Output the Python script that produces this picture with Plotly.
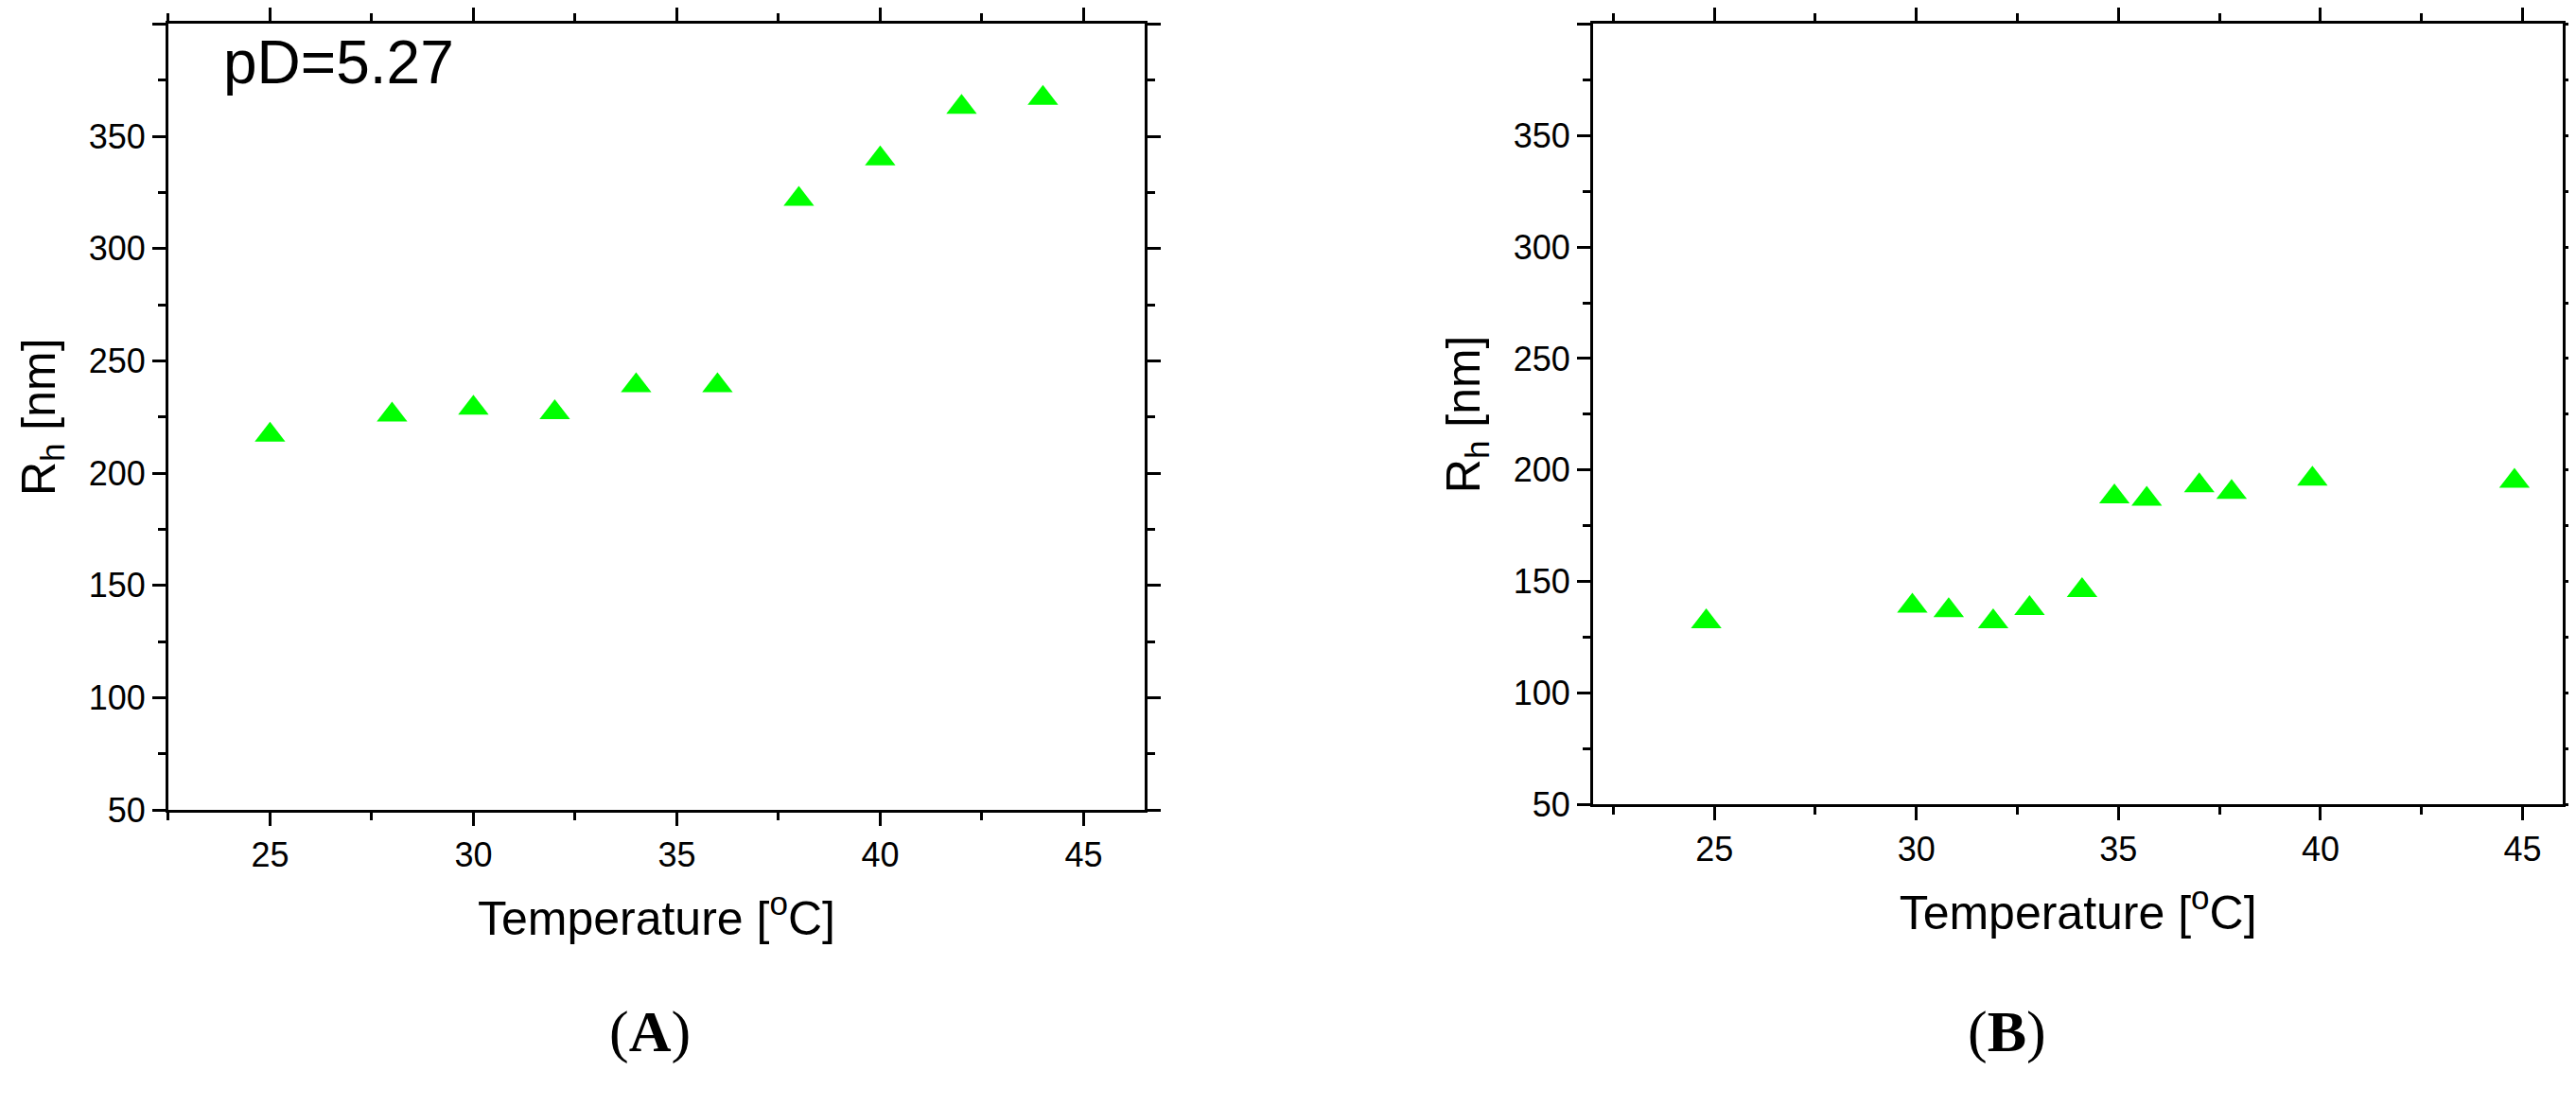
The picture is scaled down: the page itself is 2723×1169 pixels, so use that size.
import plotly.graph_objects as go

temp_a = [25, 28, 30, 32, 34, 36, 38, 40, 42, 44]
rh_a = [217, 226, 229, 227, 239, 239, 322, 340, 363, 367]
temp_b = [24.8, 29.9, 30.8, 31.9, 32.8, 34.1, 34.9, 35.7, 37.0, 37.8, 39.8, 44.8]
rh_b = [132, 139, 137, 132, 138, 146, 188, 187, 193, 190, 196, 195]

fig = go.Figure()
mk = dict(symbol="triangle-up", size=28, color="#00FF00")
fig.add_trace(go.Scatter(x=temp_a, y=rh_a, mode="markers", marker=mk, xaxis="x", yaxis="y", showlegend=False))
fig.add_trace(go.Scatter(x=temp_b, y=rh_b, mode="markers", marker=mk, xaxis="x2", yaxis="y2", showlegend=False))

tf = dict(family="Liberation Sans, Arial", size=36, color="black")
ttf = dict(family="Liberation Sans, Arial", size=50, color="black")
ax = dict(showline=True, linewidth=3, linecolor="black", mirror="ticks", ticks="outside",
          ticklen=14, tickwidth=3, tickcolor="black", showgrid=False, zeroline=False,
          tickfont=tf, minor=dict(ticks="outside", ticklen=8, tickwidth=3, tickcolor="black"))
xtitle = dict(text="Temperature [<sup>o</sup>C]", font=ttf, standoff=30)
ytitle = dict(text="R<sub>h</sub> [nm]", font=ttf, standoff=20)

fig.update_layout(
    width=2723, height=1169, paper_bgcolor="white", plot_bgcolor="white",
    margin=dict(l=0, r=0, t=0, b=0),
    xaxis=dict(ax, domain=[0.0624, 0.4414], range=[22.5, 46.5], dtick=5, tick0=25,
               minor=dict(ax["minor"], dtick=2.5, tick0=25), title=xtitle, anchor="y"),
    yaxis=dict(ax, domain=[0.2626, 0.99], range=[50, 400], dtick=50,
               minor=dict(ax["minor"], dtick=25), title=ytitle, anchor="x"),
    xaxis2=dict(ax, domain=[0.6155, 0.992], range=[22, 46], dtick=5, tick0=25,
                minor=dict(ax["minor"], dtick=2.5, tick0=25), title=xtitle, anchor="y2"),
    yaxis2=dict(ax, domain=[0.2677, 0.99], range=[50, 400], dtick=50,
                minor=dict(ax["minor"], dtick=25), title=ytitle, anchor="x2"),
    annotations=[
        dict(text="pD=5.27", x=23.8, y=383, xref="x", yref="y", showarrow=False,
             xanchor="left", yanchor="middle", font=dict(family="Liberation Sans, Arial", size=64, color="black")),
        dict(text="(<b>A</b>)", x=0.233, y=0.025, xref="paper", yref="paper", showarrow=False,
             font=dict(family="Liberation Serif, Times New Roman", size=62, color="black")),
        dict(text="(<b>B</b>)", x=0.792, y=0.025, xref="paper", yref="paper", showarrow=False,
             font=dict(family="Liberation Serif, Times New Roman", size=62, color="black")),
    ],
)
fig.write_html("out.html")
